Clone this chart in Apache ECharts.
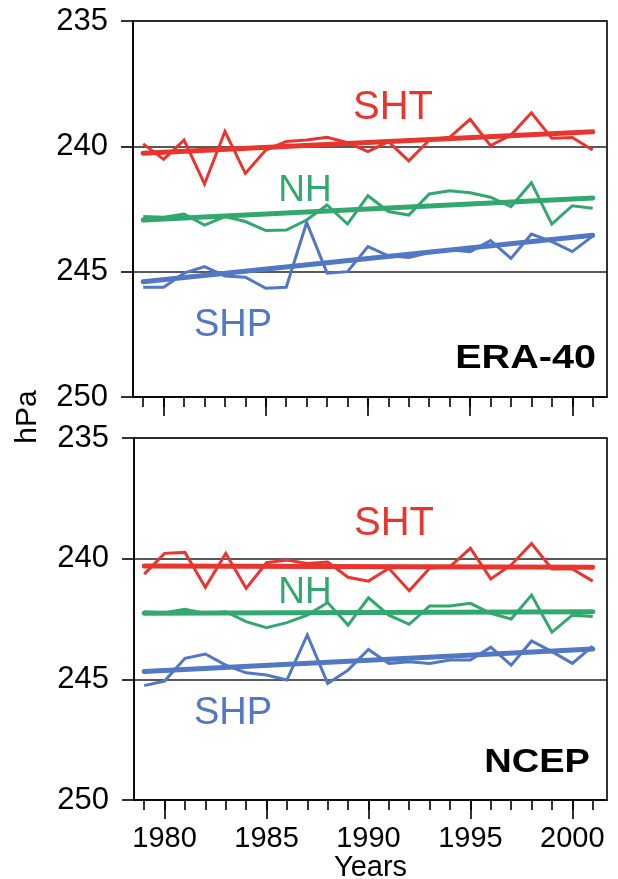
<!DOCTYPE html>
<html>
<head>
<meta charset="utf-8">
<script src="https://cdn.jsdelivr.net/npm/echarts@6/dist/echarts.min.js"></script>
<style>html,body{margin:0;padding:0;background:#fff;}#c{width:618px;height:879px;}</style>
</head>
<body>
<div id="c"></div>
<script>
var years = [1979,1980,1981,1982,1983,1984,1985,1986,1987,1988,1989,1990,1991,1992,1993,1994,1995,1996,1997,1998,1999,2000,2001];
var majorYears = [1980,1985,1990,1995,2000];
var pressureTicks = [235,240,245,250];

var eraSHT = [239.9,240.52,239.75,241.5,239.41,241.08,240.15,239.81,239.75,239.64,239.85,240.21,239.81,240.58,239.75,239.64,238.92,239.97,239.55,238.66,239.68,239.65,240.15];
var eraNH  = [242.8,242.83,242.7,243.14,242.8,243.0,243.36,243.34,242.94,242.34,243.1,241.97,242.6,242.74,241.9,241.77,241.85,242.03,242.41,241.45,243.1,242.37,242.47];
var eraSHP = [245.62,245.62,245.06,244.8,245.17,245.22,245.66,245.62,243.04,245.06,245.0,244.0,244.37,244.43,244.24,244.13,244.2,243.76,244.47,243.5,243.8,244.2,243.58];

var ncepSHT = [240.64,239.78,239.74,241.19,239.78,241.23,240.17,240.06,240.2,240.14,240.77,240.93,240.4,241.33,240.4,240.33,239.57,240.84,240.26,239.37,240.43,240.43,240.93];
var ncepNH  = [242.2,242.24,242.1,242.27,242.2,242.61,242.86,242.65,242.34,241.82,242.75,241.62,242.34,242.72,241.96,241.96,241.85,242.27,242.5,241.51,243.05,242.34,242.4];
var ncepSHP = [245.26,245.07,244.13,243.95,244.41,244.73,244.82,245.03,243.16,245.17,244.62,243.76,244.34,244.27,244.34,244.2,244.2,243.67,244.41,243.41,243.85,244.34,243.62];

var trendYears = [1979, 2001];
var eraTrendSHT = [240.28, 239.42];
var eraTrendNH  = [242.94, 242.06];
var eraTrendSHP = [245.40, 243.55];
var ncepTrendSHT = [240.30, 240.36];
var ncepTrendNH  = [242.26, 242.20];
var ncepTrendSHP = [244.68, 243.74];

var RED = '#e8352e', GREEN = '#33a86e', BLUE = '#5277c3';
var FONT = 'Liberation Sans, Arial, Helvetica, sans-serif';

function pairs(xs, ys){ return xs.map(function(x,i){ return [x, ys[i]]; }); }

function thin(name, xi, yi, data, color){
  return {type:'line', name:name, xAxisIndex:xi, yAxisIndex:yi, data:pairs(years, data),
    showSymbol:false, symbol:'none', silent:true, z:3,
    lineStyle:{color:color, width:3, join:'miter'}};
}
function trend(name, xi, yi, data, color){
  return {type:'line', name:name, xAxisIndex:xi, yAxisIndex:yi, data:pairs(trendYears, data),
    showSymbol:false, symbol:'none', silent:true, z:4,
    lineStyle:{color:color, width:5, cap:'round'}};
}

function minorX(gi){
  return {gridIndex:gi, type:'value', position:'bottom', min:1978.5, max:2001.7,
    axisLine:{show:true, onZero:false, lineStyle:{color:'#000', width:1.6}},
    axisTick:{show:true, length:10, customValues:years, lineStyle:{color:'#000', width:1.6}},
    axisLabel:{show:false}, splitLine:{show:false}};
}
function majorX(gi, labels){
  var a = {gridIndex:gi, type:'value', position:'bottom', min:1978.5, max:2001.7,
    axisLine:{show:false, onZero:false},
    axisTick:{show:true, length:19, customValues:majorYears, lineStyle:{color:'#000', width:1.6}},
    axisLabel:{show:labels, customValues:majorYears, color:'#000', fontSize:29, fontFamily:FONT, margin:24,
      formatter:function(v){ return String(Math.round(v)); }},
    splitLine:{show:false}};
  if (labels) {
    a.name = 'Years'; a.nameLocation = 'middle'; a.nameGap = 48;
    a.nameTextStyle = {color:'#000', fontSize:29, fontFamily:FONT};
  }
  return a;
}
function yAx(gi){
  return {gridIndex:gi, type:'value', inverse:true, min:235, max:250, interval:5,
    axisLine:{show:true, lineStyle:{color:'#000', width:1.6}},
    axisTick:{show:true, length:12, lineStyle:{color:'#000', width:1.6}},
    axisLabel:{color:'#000', fontSize:31, fontFamily:FONT, margin:25,
      formatter:function(v){ return pressureTicks.indexOf(v) >= 0 ? String(v) : ''; }},
    splitLine:{show:true, lineStyle:{color:'#222', width:1.5}}};
}

function label(text, x, y, color, size){
  return {type:'text', x:x, y:y, z:10, silent:true,
    style:{text:text, fill:color, fontSize:size, fontFamily:FONT, align:'center', verticalAlign:'middle'}};
}

var chart = echarts.init(document.getElementById('c'), null, {renderer:'canvas'});
chart.setOption({
  animation:false,
  backgroundColor:'#fff',
  grid:[
    {left:133, right:11, top:21, height:376, outerBoundsMode:'none', containLabel:false, show:true, borderColor:'#000', borderWidth:1.6, backgroundColor:'transparent'},
    {left:134, right:11, top:438, height:362, outerBoundsMode:'none', containLabel:false, show:true, borderColor:'#000', borderWidth:1.6, backgroundColor:'transparent'}
  ],
  xAxis:[minorX(0), majorX(0,false), minorX(1), majorX(1,true)],
  yAxis:[yAx(0), yAx(1)],
  series:[
    thin('SHT', 0, 0, eraSHT, RED),
    thin('NH', 0, 0, eraNH, GREEN),
    thin('SHP', 0, 0, eraSHP, BLUE),
    trend('SHT trend', 0, 0, eraTrendSHT, RED),
    trend('NH trend', 0, 0, eraTrendNH, GREEN),
    trend('SHP trend', 0, 0, eraTrendSHP, BLUE),
    thin('SHT', 2, 1, ncepSHT, RED),
    thin('NH', 2, 1, ncepNH, GREEN),
    thin('SHP', 2, 1, ncepSHP, BLUE),
    trend('SHT trend', 2, 1, ncepTrendSHT, RED),
    trend('NH trend', 2, 1, ncepTrendNH, GREEN),
    trend('SHP trend', 2, 1, ncepTrendSHP, BLUE)
  ],
  graphic:[
    label('SHT', 393, 108, RED, 40),
    label('NH', 305, 191, GREEN, 37),
    label('SHP', 233, 326, BLUE, 38),
    label('SHT', 394, 524, RED, 40),
    label('NH', 305, 593, GREEN, 37),
    label('SHP', 233, 714, BLUE, 38),
    {type:'text', x:596, y:359, scaleX:1.2, z:10, silent:true,
      style:{text:'ERA-40', fill:'#000', fontSize:33, fontWeight:'bold', fontFamily:FONT, align:'right', verticalAlign:'middle'}},
    {type:'text', x:590, y:763, scaleX:1.12, z:10, silent:true,
      style:{text:'NCEP', fill:'#000', fontSize:34, fontWeight:'bold', fontFamily:FONT, align:'right', verticalAlign:'middle'}},
    {type:'text', x:28, y:417, rotation:Math.PI/2, z:10, silent:true,
      style:{text:'hPa', fill:'#000', fontSize:30, fontFamily:FONT, align:'center', verticalAlign:'middle'}}
  ]
});
</script>
</body>
</html>
